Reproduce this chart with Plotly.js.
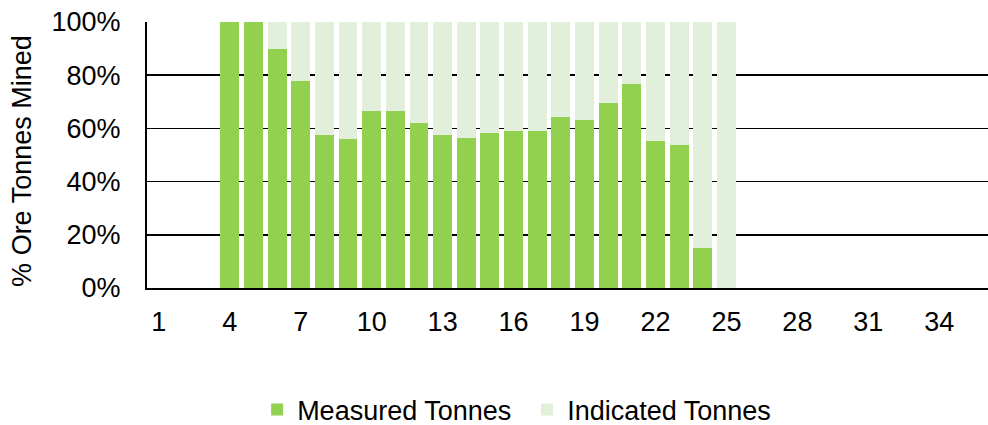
<!DOCTYPE html>
<html>
<head>
<meta charset="utf-8">
<script src="https://cdn.plot.ly/plotly-3.0.1.min.js"></script>
<style>html,body{margin:0;padding:0;background:#fff;}#chart{width:988px;height:425px;}</style>
</head>
<body>
<div id="chart"></div>
<script>
// Period numbers (x categories) that carry bars
const periods = [4, 5, 6, 7, 8, 9, 10, 11, 12, 13, 14, 15, 16, 17, 18, 19, 20, 21, 22, 23, 24, 25];
// % of ore tonnes mined from Measured resources
const measured = [100, 100, 90, 77.7, 57.5, 56.1, 66.5, 66.6, 61.9, 57.5, 56.3, 58.3, 59.0, 59.2, 64.3, 63.1, 69.4, 76.7, 55.2, 53.7, 15.2, 0];
// % of ore tonnes mined from Indicated resources
const indicated = [0, 0, 10, 22.3, 42.5, 43.9, 33.5, 33.4, 38.1, 42.5, 43.7, 41.7, 41.0, 40.8, 35.7, 36.9, 30.6, 23.3, 44.8, 46.3, 84.8, 100];
// x tick labels
const xTicks = [1, 4, 7, 10, 13, 16, 19, 22, 25, 28, 31, 34];
const yTicks = [0, 20, 40, 60, 80, 100];
const yTickText = ['0%', '20%', '40%', '60%', '80%', '100%'];

const FONT = '"Liberation Sans", Arial, sans-serif';
const FS = 27;

const traces = [
  {type: 'bar', name: 'Measured Tonnes', x: periods, y: measured,
   marker: {color: '#92D050', line: {width: 0}}, hoverinfo: 'x+y'},
  {type: 'bar', name: 'Indicated Tonnes', x: periods, y: indicated,
   marker: {color: '#E2EFDA', line: {width: 0}}, hoverinfo: 'x+y'}
];

const layout = {
  width: 988, height: 425,
  margin: {l: 147, r: 0, t: 22, b: 137, autoexpand: false},
  paper_bgcolor: '#fff', plot_bgcolor: '#fff',
  barmode: 'stack', bargap: 0.2,
  font: {family: FONT, size: FS, color: '#000'},
  xaxis: {
    range: [0.5, 36.06], tickmode: 'array', tickvals: xTicks,
    ticktext: xTicks.map(String),
    showgrid: false, zeroline: false,
    showline: true, linecolor: '#000', linewidth: 2,
    ticks: '', ticklabelstandoff: 9, automargin: false,
    tickfont: {family: FONT, size: FS, color: '#000'}
  },
  yaxis: {
    range: [0, 100], tickmode: 'array', tickvals: yTicks, ticktext: yTickText,
    showgrid: true, gridcolor: '#000', gridwidth: 1.5,
    zeroline: false, showline: true, linecolor: '#000', linewidth: 2,
    ticks: '', ticklabelstandoff: 19, automargin: false,
    tickfont: {family: FONT, size: FS, color: '#000'}
  },
  annotations: [{
    text: '% Ore Tonnes Mined', textangle: -90,
    xref: 'paper', yref: 'paper', x: -0.1486, y: 0.478,
    xanchor: 'center', yanchor: 'middle', showarrow: false,
    font: {family: FONT, size: FS, color: '#000'}
  }],
  showlegend: true,
  legend: {
    orientation: 'h', x: 0.452, xanchor: 'center', y: -0.4586, yanchor: 'middle',
    font: {family: FONT, size: FS, color: '#000'},
    traceorder: 'normal', itemwidth: 30, bgcolor: 'rgba(0,0,0,0)',
    entrywidth: 225
  }
};

Plotly.newPlot('chart', traces, layout, {displayModeBar: false, staticPlot: true});
</script>
</body>
</html>
